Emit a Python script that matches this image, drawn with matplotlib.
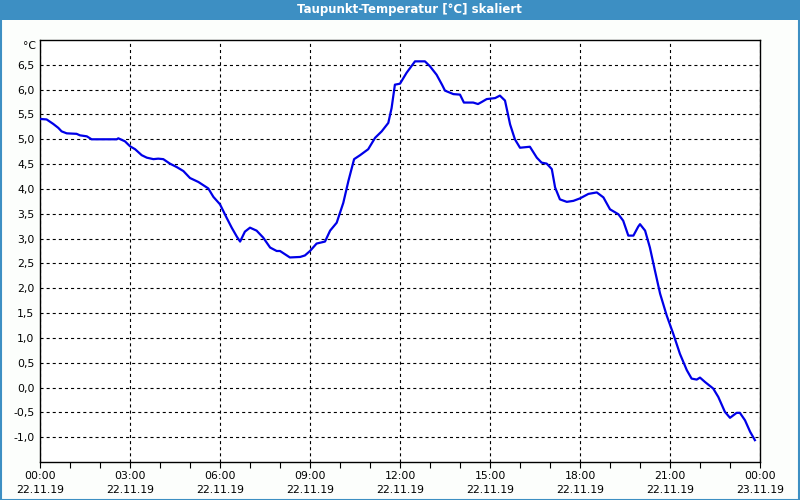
import matplotlib
matplotlib.use('Agg')
import matplotlib.pyplot as plt
from matplotlib.patches import Rectangle
from matplotlib.ticker import MultipleLocator, FuncFormatter

# Taupunkt over one day, hours since 22.11.19 00:00
hours = [0.0, 0.22, 0.44, 0.61, 0.72, 0.89, 1.22, 1.33, 1.56, 1.72, 2.56, 2.61,
         2.83, 3.0, 3.17, 3.39, 3.56, 3.78, 3.94, 4.11, 4.33, 4.56, 4.78, 5.0,
         5.28, 5.61, 5.78, 6.0, 6.22, 6.39, 6.56, 6.67, 6.83, 7.0, 7.22, 7.44,
         7.67, 7.89, 8.0, 8.33, 8.67, 8.83, 9.0, 9.22, 9.5, 9.67, 9.89, 10.11,
         10.28, 10.47, 10.67, 10.94, 11.17, 11.39, 11.61, 11.72, 11.83, 12.0,
         12.22, 12.5, 12.83, 13.0, 13.22, 13.4, 13.5, 13.78, 14.0, 14.13, 14.44,
         14.6, 14.72, 14.89, 15.17, 15.33, 15.5, 15.67, 15.83, 16.0, 16.33,
         16.56, 16.72, 16.89, 17.06, 17.17, 17.33, 17.56, 17.78, 18.0, 18.28,
         18.56, 18.78, 19.0, 19.28, 19.44, 19.61, 19.78, 19.94, 20.0, 20.17,
         20.33, 20.5, 20.67, 20.89, 21.11, 21.33, 21.56, 21.72, 21.89, 22.0,
         22.17, 22.44, 22.61, 22.83, 23.0, 23.22, 23.33, 23.5, 23.67, 23.83]
taupunkt = [5.41, 5.40, 5.31, 5.23, 5.16, 5.12, 5.11, 5.08, 5.06, 5.00, 5.00, 5.02,
            4.96, 4.86, 4.80, 4.68, 4.63, 4.60, 4.61, 4.60, 4.51, 4.44, 4.36, 4.22,
            4.14, 4.01, 3.84, 3.69, 3.42, 3.22, 3.04, 2.94, 3.14, 3.22, 3.16, 3.02,
            2.82, 2.75, 2.75, 2.62, 2.63, 2.66, 2.75, 2.90, 2.94, 3.16, 3.32, 3.72,
            4.16, 4.60, 4.68, 4.80, 5.03, 5.16, 5.33, 5.63, 6.10, 6.12,
            6.34, 6.57, 6.57, 6.47, 6.30, 6.10, 5.98, 5.91, 5.90, 5.74, 5.74,
            5.71, 5.75, 5.81, 5.83, 5.88, 5.78, 5.30, 5.00, 4.83, 4.85,
            4.63, 4.53, 4.51, 4.40, 4.03, 3.79, 3.74, 3.76, 3.81, 3.90,
            3.93, 3.83, 3.59, 3.49, 3.36, 3.06, 3.06, 3.24, 3.29, 3.16,
            2.82, 2.35, 1.89, 1.45, 1.08, 0.68, 0.35, 0.18, 0.16, 0.20,
            0.11, -0.02, -0.19, -0.49, -0.61, -0.51, -0.51, -0.66, -0.89, -1.06]

xtick_hours = [0, 3, 6, 9, 12, 15, 18, 21, 24]
xtick_labels = ['00:00\n22.11.19', '03:00\n22.11.19', '06:00\n22.11.19',
                '09:00\n22.11.19', '12:00\n22.11.19', '15:00\n22.11.19',
                '18:00\n22.11.19', '21:00\n22.11.19', '00:00\n23.11.19']

title = 'Taupunkt-Temperatur [°C] skaliert'
blue_bar = '#3d8fc3'

plt.rcParams['font.family'] = 'DejaVu Sans'
plt.rcParams['lines.scale_dashes'] = False

fig = plt.figure(figsize=(8, 5), dpi=100)
fig.patch.set_facecolor('#fcfefc')

# title bar and outer frame
fig.patches.append(Rectangle((0, 0.96), 1, 0.04, transform=fig.transFigure,
                             facecolor=blue_bar, edgecolor='none', zorder=0))
fig.patches.append(Rectangle((0.001, 0.001), 0.998, 0.998, transform=fig.transFigure,
                             facecolor='none', edgecolor=blue_bar, linewidth=1.5))
fig.text(0.512, 0.981, title, color='white', fontsize=8.5, fontweight='bold',
         ha='center', va='center')

ax = fig.add_axes([0.05, 0.076, 0.90, 0.844])
ax.set_facecolor('white')
ax.plot(hours, taupunkt, color='#0000e8', linewidth=1.6, zorder=3)

ax.set_xlim(0, 24)
ax.set_ylim(-1.5, 7.0)

ax.set_xticks(xtick_hours)
ax.set_xticklabels(xtick_labels, fontsize=7.8, linespacing=1.5)
ax.xaxis.set_minor_locator(MultipleLocator(1))
ax.tick_params(axis='x', which='both', direction='out', length=4, width=0.8,
               pad=2.5, colors='black')

ax.set_yticks([v / 2 for v in range(-2, 14)])
ax.yaxis.set_major_formatter(FuncFormatter(lambda v, p: ('%.1f' % v).replace('.', ',')))
ax.tick_params(axis='y', length=0, pad=4, labelsize=7.8)

ax.grid(True, which='major', color='black', linestyle=(0, (2.2, 2.2)), linewidth=0.8)
for s in ax.spines.values():
    s.set_linewidth(1.0)
    s.set_color('black')

fig.text(0.045, 0.908, '°C', fontsize=7.8, ha='right', va='center')

fig.savefig('out.png', dpi=100, facecolor=fig.get_facecolor())
